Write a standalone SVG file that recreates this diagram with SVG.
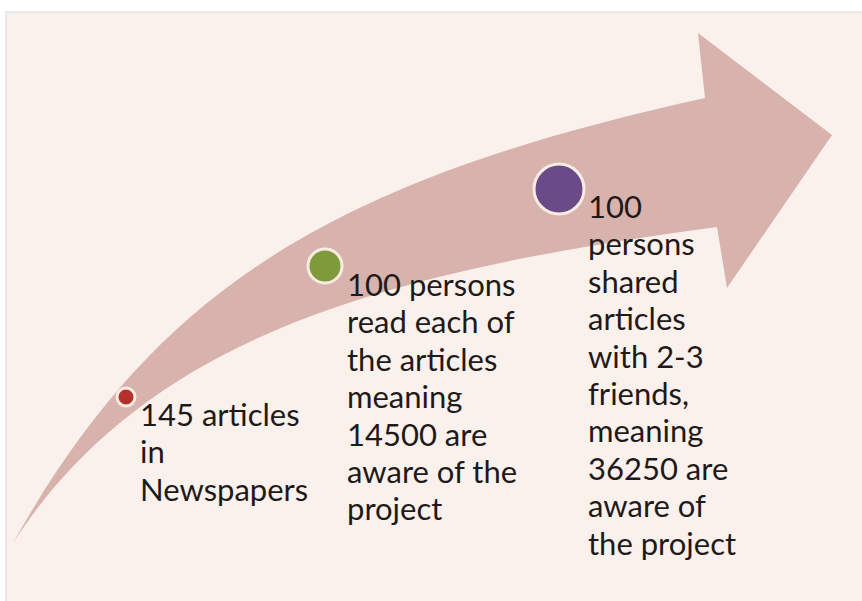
<svg xmlns="http://www.w3.org/2000/svg" width="862" height="601" viewBox="0 0 862 601">
<style>
.lbl{font-family:Lato,"Open Sans","Liberation Sans",sans-serif;font-size:31px;fill:#1f1a1a}
.dot{stroke:#f8ece2;stroke-width:3}
</style>
<rect x="0" y="0" width="862" height="601" fill="#ffffff"/>
<rect x="6" y="12" width="870" height="600" fill="#fbf1ec" stroke="#e3e3e6" stroke-width="1.5"/>
<g id="arrow">
<path d="M13,543 C154,292 327,181 705,98 L698,33 L832,135 L727,288 L717,227 C400,270 150,330 13,543 Z" fill="#d8b2ad"/>
</g>
<g id="step1">
<circle class="dot" cx="126" cy="397" r="9" fill="#b5302d"/>
<text class="lbl" x="140" y="426">145 articles</text>
<text class="lbl" x="140" y="463.4">in</text>
<text class="lbl" x="140" y="500.8">Newspapers</text>
</g>
<g id="step2">
<circle class="dot" cx="325" cy="266" r="17" fill="#7e9a3a"/>
<text class="lbl" x="347" y="296">100 persons</text>
<text class="lbl" x="347" y="333.4">read each of</text>
<text class="lbl" x="347" y="370.8">the articles</text>
<text class="lbl" x="347" y="408.2">meaning</text>
<text class="lbl" x="347" y="445.6">14500 are</text>
<text class="lbl" x="347" y="483">aware of the</text>
<text class="lbl" x="347" y="520.4">project</text>
</g>
<g id="step3">
<circle class="dot" cx="559" cy="189" r="25" fill="#6a4a87"/>
<text class="lbl" x="588" y="218">100</text>
<text class="lbl" x="588" y="255.4">persons</text>
<text class="lbl" x="588" y="292.8">shared</text>
<text class="lbl" x="588" y="330.2">articles</text>
<text class="lbl" x="588" y="367.6">with 2-3</text>
<text class="lbl" x="588" y="405">friends,</text>
<text class="lbl" x="588" y="442.4">meaning</text>
<text class="lbl" x="588" y="479.8">36250 are</text>
<text class="lbl" x="588" y="517.2">aware of</text>
<text class="lbl" x="588" y="554.6">the project</text>
</g>
<g id="connectors"></g>
</svg>
